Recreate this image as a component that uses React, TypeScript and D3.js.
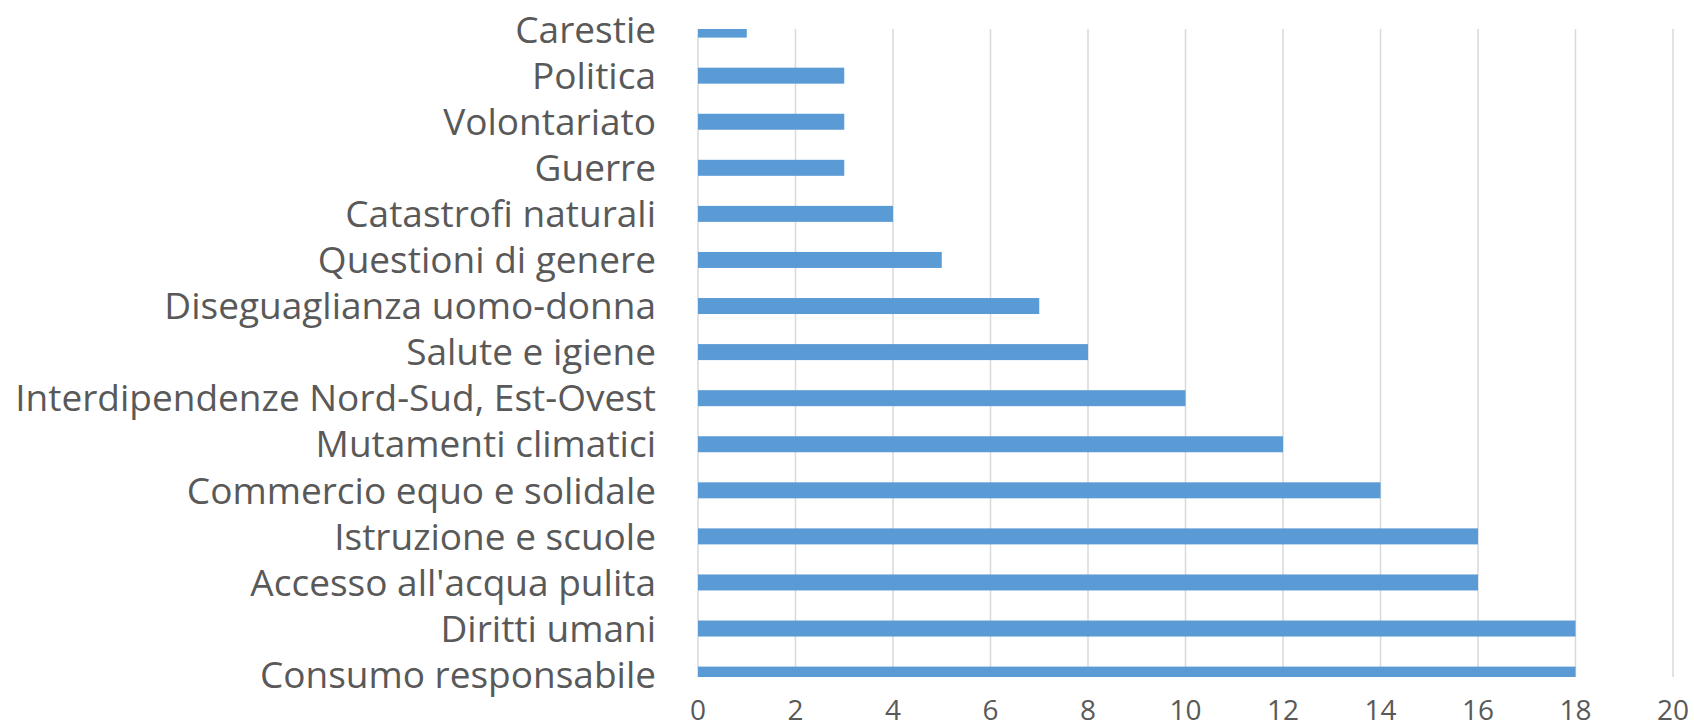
import React from 'react';
import * as d3 from 'd3';

const categories = [
  'Carestie',
  'Politica',
  'Volontariato',
  'Guerre',
  'Catastrofi naturali',
  'Questioni di genere',
  'Diseguaglianza uomo-donna',
  'Salute e igiene',
  'Interdipendenze Nord-Sud, Est-Ovest',
  'Mutamenti climatici',
  'Commercio equo e solidale',
  'Istruzione e scuole',
  "Accesso all'acqua pulita",
  'Diritti umani',
  'Consumo responsabile',
];
const values = [1, 3, 3, 3, 4, 5, 7, 8, 10, 12, 14, 16, 16, 18, 18];
const xTicks = [0, 2, 4, 6, 8, 10, 12, 14, 16, 18, 20];

const width = 1694;
const height = 728;
const plot = { left: 698, right: 1673, top: 29, bottom: 677 };
const barH = 16;
const textColor = '#595959';
const font = '"Open Sans", sans-serif';

export default function App() {
  const x = d3.scaleLinear().domain([0, 20]).range([plot.left, plot.right]);
  // category centres; the outer bars are cut by the plot area, as in the source
  const y = d3.scalePoint<string>().domain(categories).range([29.6, 674.6]);

  return (
    <svg
      width={width}
      height={height}
      style={{ position: 'absolute', left: 0, top: 0, background: '#fff' }}
    >
      <defs>
        <clipPath id="plotClip">
          <rect x={plot.left} y={plot.top} width={plot.right - plot.left + 2} height={plot.bottom - plot.top} />
        </clipPath>
      </defs>

      {/* gridlines */}
      {xTicks.map((t) => (
        <line
          key={'g' + t}
          x1={x(t)}
          x2={x(t)}
          y1={plot.top}
          y2={plot.bottom}
          stroke="#d9d9d9"
          strokeWidth={1.5}
        />
      ))}

      {/* bars */}
      <g clipPath="url(#plotClip)">
        {categories.map((c, i) => (
          <rect
            key={c}
            x={x(0)}
            y={(y(c) as number) - barH / 2}
            width={x(values[i]) - x(0)}
            height={barH}
            fill="#5b9bd5"
          />
        ))}
      </g>

      {/* category labels */}
      {categories.map((c) => (
        <text
          key={'l' + c}
          x={656}
          y={(y(c) as number) + 13.2}
          textAnchor="end"
          fontFamily={font}
          fontSize={37}
          fill={textColor}
        >
          {c}
        </text>
      ))}

      {/* x tick labels */}
      {xTicks.map((t) => (
        <text
          key={'t' + t}
          x={x(t)}
          y={720}
          textAnchor="middle"
          fontFamily={font}
          fontSize={28}
          fill={textColor}
        >
          {t}
        </text>
      ))}
    </svg>
  );
}
